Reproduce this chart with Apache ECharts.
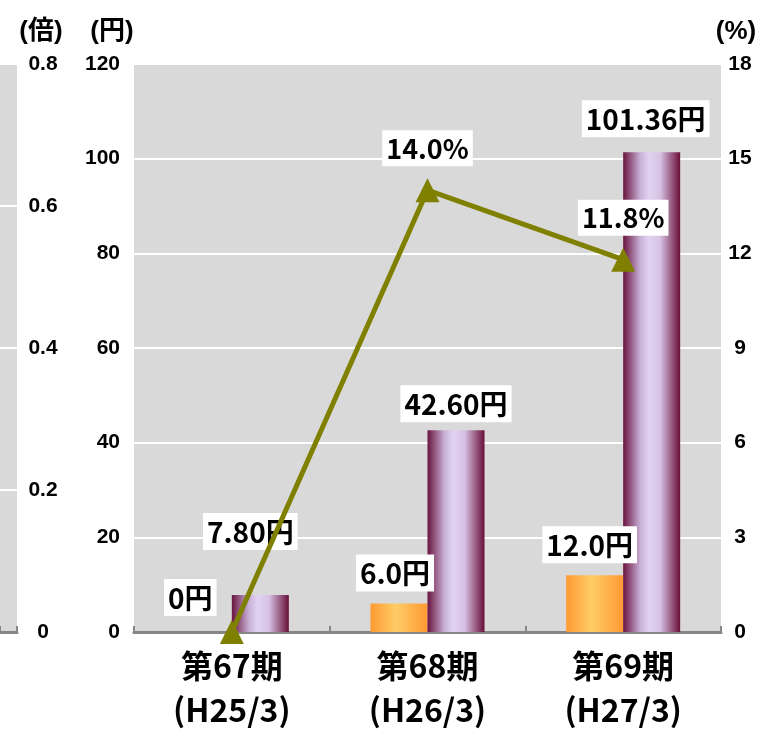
<!DOCTYPE html>
<html><head><meta charset="utf-8">
<script src="https://cdn.jsdelivr.net/npm/echarts@6.0.0/dist/echarts.min.js"></script>
<style>html,body{margin:0;padding:0;background:#fff}#c{width:762px;height:731px}</style>
</head><body><div id="c"></div>
<script>
// ---- data ----
const categories = ['第67期\n(H25/3)', '第68期\n(H26/3)', '第69期\n(H27/3)'];
const dividend = [0, 6.0, 12.0];          // 円 (orange bars)
const eps = [7.80, 42.60, 101.36];        // 円 (purple bars)
const ratio = [0, 14.0, 11.8];            // % (line)
const yenTicks = [0, 20, 40, 60, 80, 100, 120];
const pctTicks = [0, 3, 6, 9, 12, 15, 18];
const timesTicks = [0, 0.2, 0.4, 0.6, 0.8];
const axisTitles = ['(倍)', '(円)', '(%)'];

// ---- chart ----
const chart = echarts.init(document.getElementById('c'), null, {renderer: 'canvas'});
const LAT = "'Liberation Sans','Noto Sans CJK JP',sans-serif";
const CJK = "'Noto Sans CJK JP','Liberation Sans',sans-serif";
const grey = '#D9D9D9';
const axisGrey = '#868686';

const labelBase = {
  show: true, position: 'top', distance: 10,
  fontFamily: CJK, fontWeight: 'bold', fontSize: 28, color: '#000',
  backgroundColor: '#fff', padding: [5, 4, 4, 4]
};
const divOffsets = [[-13, -6], [-4, -2], [-5, -2]];
const epsOffsets = [[-10, -35], [0, 2], [-6, -5]];

const orangeGrad = new echarts.graphic.LinearGradient(0, 0, 1, 0, [
  {offset: 0, color: '#FF9A33'}, {offset: 0.45, color: '#FFCC66'}, {offset: 1, color: '#FF9933'}]);
const purpleGrad = new echarts.graphic.LinearGradient(0, 0, 1, 0, [
  {offset: 0, color: '#6A1440'}, {offset: 0.3, color: '#C8B0D6'}, {offset: 0.45, color: '#E2D2F2'},
  {offset: 0.65, color: '#D6C2E4'}, {offset: 1, color: '#6A0E38'}]);

const titleFont = "bold 26px 'Liberation Sans','Noto Sans CJK JP'";

const option = {
  animation: false,
  backgroundColor: '#fff',
  grid: [
    {left: 134, right: 41, top: 64, bottom: 99, show: true, backgroundColor: grey, borderWidth: 0, containLabel: false, outerBoundsMode: 'none'},
    {left: 0, width: 17, top: 64, bottom: 99, show: true, backgroundColor: grey, borderWidth: 0, containLabel: false, outerBoundsMode: 'none'}
  ],
  xAxis: [
    {type: 'category', gridIndex: 0, data: categories,
     axisLine: {show: true, lineStyle: {color: axisGrey, width: 3}},
     axisTick: {show: true, inside: true, length: 6, lineStyle: {color: axisGrey, width: 2}},
     axisLabel: {fontFamily: CJK, fontWeight: 'bold', fontSize: 32, color: '#000', lineHeight: 44, margin: 12, interval: 0}},
    {type: 'category', gridIndex: 1, data: [''],
     axisLine: {show: true, lineStyle: {color: axisGrey, width: 3}},
     axisTick: {show: true, inside: true, length: 6, lineStyle: {color: axisGrey, width: 2}},
     axisLabel: {show: false}}
  ],
  yAxis: [
    {type: 'value', gridIndex: 0, position: 'left', min: yenTicks[0], max: yenTicks[yenTicks.length - 1], interval: yenTicks[1] - yenTicks[0],
     axisLine: {show: false}, axisTick: {show: false},
     splitLine: {show: true, lineStyle: {color: '#fff', width: 2}},
     axisLabel: {fontFamily: LAT, fontWeight: 'bold', fontSize: 21, color: '#000', margin: 14}},
    {type: 'value', gridIndex: 0, position: 'right', min: pctTicks[0], max: pctTicks[pctTicks.length - 1], interval: pctTicks[1] - pctTicks[0],
     axisLine: {show: false}, axisTick: {show: false}, splitLine: {show: false},
     axisLabel: {fontFamily: LAT, fontWeight: 'bold', fontSize: 21, color: '#000', margin: 19, align: 'center'}},
    {type: 'value', gridIndex: 1, position: 'right', min: timesTicks[0], max: timesTicks[timesTicks.length - 1], interval: timesTicks[1] - timesTicks[0],
     axisLine: {show: false}, axisTick: {show: false},
     splitLine: {show: true, lineStyle: {color: '#fff', width: 2}},
     axisLabel: {fontFamily: LAT, fontWeight: 'bold', fontSize: 21, color: '#000', margin: 26, align: 'center'}}
  ],
  series: [
    {type: 'bar', name: '配当', xAxisIndex: 0, yAxisIndex: 0, barWidth: 57, barGap: '0%',
     itemStyle: {color: orangeGrad},
     data: dividend.map((v, i) => ({value: v, label: Object.assign({}, labelBase, {offset: divOffsets[i]})})),
     label: Object.assign({}, labelBase, {formatter: p => (p.value === 0 ? '0' : p.value.toFixed(1)) + '円'}),
     z: 2},
    {type: 'bar', name: 'EPS', xAxisIndex: 0, yAxisIndex: 0, barWidth: 57, barGap: '0%',
     itemStyle: {color: purpleGrad},
     data: eps.map((v, i) => ({value: v, label: Object.assign({}, labelBase, {offset: epsOffsets[i]})})),
     label: Object.assign({}, labelBase, {formatter: p => p.value.toFixed(2) + '円'}),
     z: 2},
    {type: 'line', name: '配当性向', xAxisIndex: 0, yAxisIndex: 1,
     symbol: 'triangle', symbolSize: [24, 24], showAllSymbol: true,
     lineStyle: {color: '#808000', width: 5}, itemStyle: {color: '#808000'},
     data: ratio.map(v => ({value: v, label: {show: v !== 0}})),
     label: Object.assign({}, labelBase, {fontSize: 27, distance: 12, formatter: p => p.value.toFixed(1) + '%'}),
     z: 5},
    {type: 'bar', xAxisIndex: 1, yAxisIndex: 2, data: ['-'], silent: true}
  ],
  graphic: [
    {type: 'text', style: {text: axisTitles[0], x: 41, y: 32, align: 'center', verticalAlign: 'middle', font: titleFont, fill: '#000'}},
    {type: 'text', style: {text: axisTitles[1], x: 112, y: 32, align: 'center', verticalAlign: 'middle', font: titleFont, fill: '#000'}},
    {type: 'text', style: {text: axisTitles[2], x: 736, y: 32, align: 'center', verticalAlign: 'middle', font: titleFont, fill: '#000'}}
  ]
};
chart.setOption(option);
</script>
</body></html>
